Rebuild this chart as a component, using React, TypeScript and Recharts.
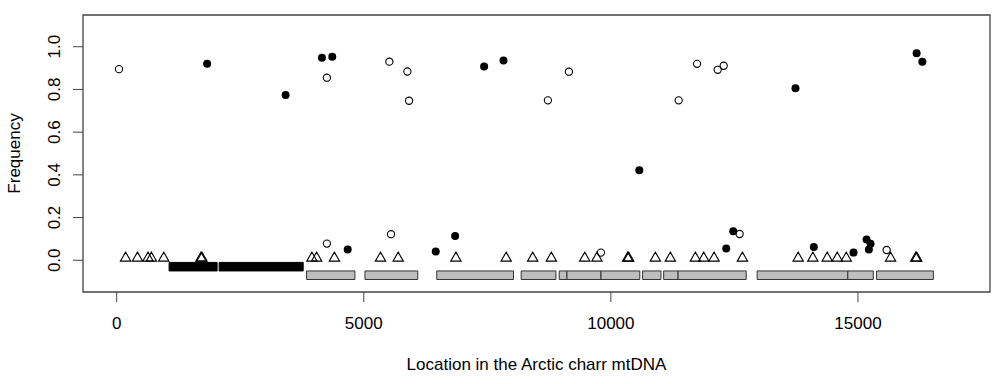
import React from "react";
import { ScatterChart, Scatter, XAxis, YAxis, ReferenceArea, Label } from "recharts";

// axis setup (R style: ylim -0.1..1.1 plus 4% padding)
const xTicks = [0, 5000, 10000, 15000];
const yTicks = [0, 0.2, 0.4, 0.6, 0.8, 1.0];
const xDomain: [number, number] = [-682, 17672];
const yDomain: [number, number] = [-0.1486, 1.1486];

// open circles
const openX = [47, 4254, 5517, 5882, 5916, 8726, 9151, 11372, 11744, 12162, 12283, 4254, 5551, 9799, 12605, 15580];
const openY = [0.895, 0.855, 0.93, 0.884, 0.747, 0.749, 0.883, 0.749, 0.92, 0.892, 0.911, 0.078, 0.122, 0.036, 0.123, 0.048];

// filled circles
const filledX = [1830, 3418, 4153, 4362, 7435, 7827, 10575, 13736, 16187, 16303, 4674, 6456, 6848, 12335, 12476, 14107, 14910, 15174, 15255, 15221];
const filledY = [0.92, 0.774, 0.948, 0.953, 0.908, 0.936, 0.422, 0.806, 0.97, 0.93, 0.05, 0.041, 0.114, 0.055, 0.136, 0.062, 0.036, 0.097, 0.077, 0.05];

// triangles along the bottom
const triX = [180, 420, 634, 702, 952, 1705, 1725, 3950, 4045, 4405, 5338, 5696, 6864, 7881, 8418, 8795, 9471, 9718, 10340, 10360, 10900, 11203, 11710, 11879, 12088, 12662, 13790, 14087, 14378, 14581, 14763, 15660, 16170, 16190];
const triY = 0.01;

// gene blocks [start, end]
const rrnaGenes = [[1060, 2032], [2073, 3774]];
const proteinGenes = [
  [3842, 4820], [5024, 6092], [6477, 8029], [8185, 8888], [8955, 9111], [9111, 9800],
  [9800, 10585], [10642, 11014], [11068, 11360], [11360, 12738], [12960, 14795],
  [14795, 15310], [15377, 16525],
];

const openData = openX.map((x, i) => ({ x, y: openY[i] }));
const filledData = filledX.map((x, i) => ({ x, y: filledY[i] }));
const triData = triX.map((x) => ({ x, y: triY }));

const FONT = "'Liberation Sans', Arial, sans-serif";

const OpenDot = (p: any) => <circle cx={p.cx} cy={p.cy} r={3.6} fill="none" stroke="#000" strokeWidth={1.1} />;
const FilledDot = (p: any) => <circle cx={p.cx} cy={p.cy} r={4} fill="#000" />;
const Tri = (p: any) => (
  <path
    d={`M${p.cx},${p.cy - 6} L${p.cx + 5.2},${p.cy + 3} L${p.cx - 5.2},${p.cy + 3} Z`}
    fill="none"
    stroke="#000"
    strokeWidth={1.1}
  />
);

const YTick = (props: any) => {
  const { x, y, payload } = props;
  return (
    <text transform={`translate(${x - 11},${y}) rotate(-90)`} textAnchor="middle" fontSize={17} fill="#000" fontFamily={FONT}>
      {Number(payload.value).toFixed(1)}
    </text>
  );
};

const App: React.FC = () => {
  return (
    <div style={{ position: "absolute", left: 0, top: 0, background: "#fff" }}>
      <ScatterChart width={1000} height={384} margin={{ top: 15, right: 10, left: 0, bottom: 0 }} style={{ fontFamily: FONT }}>
        <XAxis
          type="number"
          dataKey="x"
          domain={xDomain}
          ticks={xTicks}
          axisLine={false}
          tickLine={{ stroke: "#444" }}
          tickSize={10}
          tickMargin={15}
          height={92}
          tick={{ fill: "#000", fontSize: 17 }}
        >
          <Label
            content={({ viewBox }: any) => (
              <text x={viewBox.x + viewBox.width / 2} y={viewBox.y + 78} textAnchor="middle" fontSize={17} fill="#000" fontFamily={FONT}>
                Location in the Arctic charr mtDNA
              </text>
            )}
          />
        </XAxis>
        <YAxis
          type="number"
          dataKey="y"
          domain={yDomain}
          ticks={yTicks}
          axisLine={false}
          tickLine={{ stroke: "#444" }}
          tickSize={10}
          width={83}
          tick={<YTick />}
        >
          <Label
            content={({ viewBox }: any) => (
              <text
                transform={`translate(${viewBox.x + 20},${viewBox.y + viewBox.height / 2}) rotate(-90)`}
                textAnchor="middle"
                fontSize={17}
                fill="#000"
                fontFamily={FONT}
              >
                Frequency
              </text>
            )}
          />
        </YAxis>

        {/* plot box */}
        <ReferenceArea x1={xDomain[0]} x2={xDomain[1]} y1={yDomain[0]} y2={yDomain[1]} fill="none" stroke="#444" strokeWidth={1.3} />

        {rrnaGenes.map(([s, e], i) => (
          <ReferenceArea key={`r-${i}`} x1={s} x2={e} y1={-0.05} y2={-0.01} fill="#000" fillOpacity={1} stroke="#000" strokeWidth={1} />
        ))}
        {proteinGenes.map(([s, e], i) => (
          <ReferenceArea key={`p-${i}`} x1={s} x2={e} y1={-0.09} y2={-0.05} fill="#bebebe" fillOpacity={1} stroke="#333" strokeWidth={1} />
        ))}

        <Scatter data={triData} shape={Tri} isAnimationActive={false} />
        <Scatter data={openData} shape={OpenDot} isAnimationActive={false} />
        <Scatter data={filledData} shape={FilledDot} isAnimationActive={false} />
      </ScatterChart>
    </div>
  );
};

export default App;
